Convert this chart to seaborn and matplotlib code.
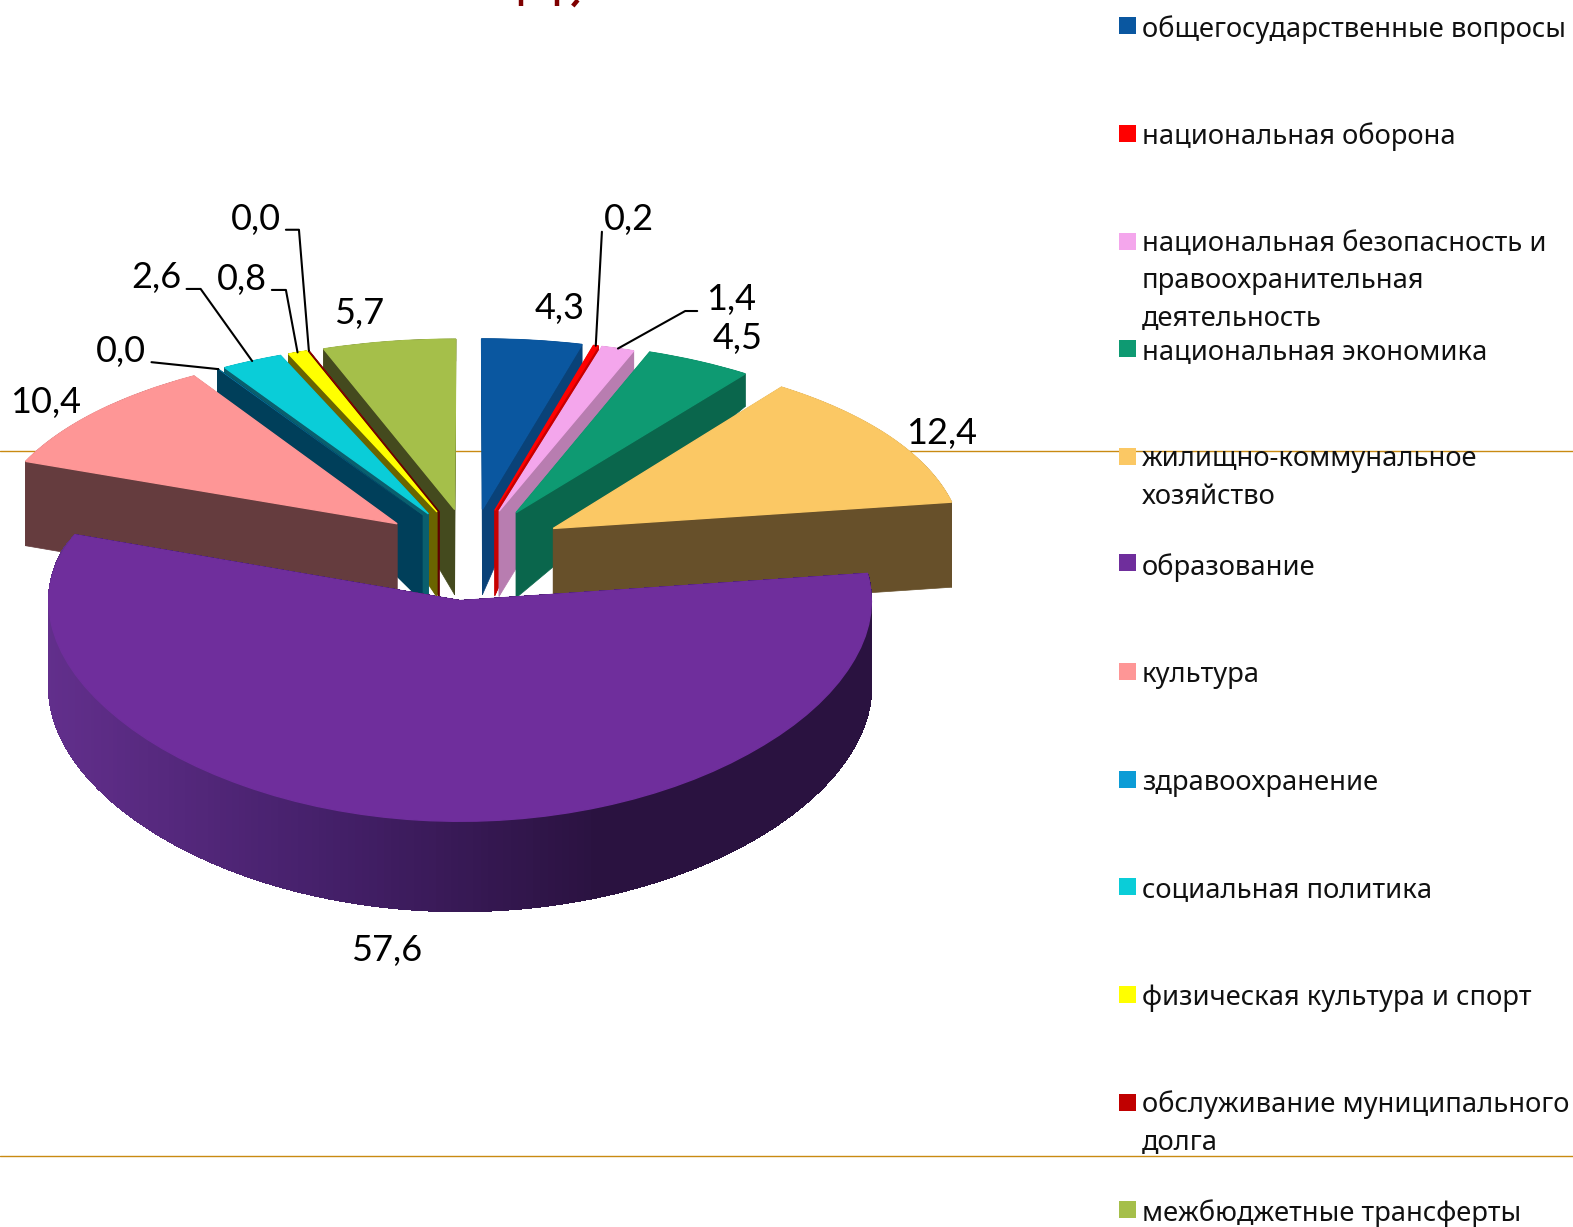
import numpy as np
import matplotlib
matplotlib.use("Agg")
import matplotlib.pyplot as plt
from matplotlib.collections import PolyCollection
from matplotlib.colors import LinearSegmentedColormap
from matplotlib.transforms import Transform
import seaborn as sns

# ---------- data ----------
categories = ["общегосударственные вопросы", "национальная оборона",
              "национальная безопасность и\nправоохранительная\nдеятельность",
              "национальная экономика", "жилищно-коммунальное\nхозяйство",
              "образование", "культура", "здравоохранение", "социальная политика",
              "физическая культура и спорт", "обслуживание муниципального\nдолга",
              "межбюджетные трансферты"]
values = [4.3, 0.2, 1.4, 4.5, 12.4, 57.6, 10.4, 0.03, 2.6, 0.8, 0.03, 5.7]
top_colors = ["#0A57A0", "#FF0000", "#F4A6EC", "#0E9A72", "#FBC864", "#6F2E9C",
              "#FE9696", "#0C9CD6", "#0ACDD8", "#FFFF00", "#C00000", "#A5BF4A"]
wall_colors = ["#0A4278", "#C80000", "#B87DB0", "#0A664C", "#67502A", "#3F1C60",
               "#653C3E", "#003F5A", "#0A5F6E", "#6A6400", "#600000", "#444A1E"]
explode = [0.22, 0.22, 0.22, 0.23, 0.235, 0.25, 0.23, 0.22, 0.22, 0.22, 0.22, 0.22]

# ---------- layout (in reference pixels) ----------
label_xy = [(558, 307), (627, 219), (729, 299), (735, 337), (939, 432), (385, 947),
            (45, 401), (121, 350), (156, 277), (241, 279), (255, 219), (358, 312)]
# leader starts and elbows for the labels that have one (index: [start, elbow])
leaders = {1: [(600, 231)], 2: [(695, 310), (683, 310)], 7: [(151, 361)],
           8: [(186, 288), (200, 288)], 9: [(271, 289), (285, 289)],
           10: [(285, 229), (298, 229)]}
legend_marker_y = [25, 133, 241, 347, 455, 561, 669, 777, 884, 991, 1099, 1206]
legend_text_y = [27, 134, 241, 349, 456, 563, 671, 778, 885, 993, 1099, 1207]
CX, CY, R = 469.0, 550.0, 410.0


class Perspective(Transform):
    """Ground-plane pie coordinates (radius 1) to picture pixels."""
    input_dims = 2
    output_dims = 2
    is_separable = False
    has_inverse = False

    def transform_non_affine(self, v):
        v = np.asarray(v, dtype=float)
        y = v[:, 1]
        back = y > 0
        dx = np.where(back, 1 + 0.08 * y, 1.0)
        dy = np.where(back, 1 + 0.12 * y, 1 + 0.088 * y)
        squash = np.where(back, 0.487, 0.467)
        return np.column_stack((CX + R * v[:, 0] / dx, CY - R * squash * y / dy))


def wall_height(y):
    return np.interp(y, [-1.3, 0.5, 1.0, 1.3], [90, 84, 32, 18])


sns.set_theme(style="white")
plt.rcParams["font.family"] = ["Noto Sans", "DejaVu Sans"]
fig = plt.figure(figsize=(15.73, 12.27), dpi=100, facecolor="white")
ax = fig.add_axes([0, 0, 1, 1])

wedges, _ = ax.pie(values, explode=explode, colors=top_colors, startangle=90,
                   counterclock=False, radius=1, wedgeprops=dict(linewidth=0))
ax.set_aspect("auto")
proj = Perspective()
shade = LinearSegmentedColormap.from_list("wall", ["#622F8C", "#45206A", "#2A1240", "#2A1240"])

for rank, i in enumerate(sorted(range(len(values)), key=lambda k: -wedges[k].center[1])):
    w = wedges[i]
    w.set_transform(proj + ax.transData)
    w.set_zorder(10 + 2 * rank + 1)
    w.set_edgecolor(top_colors[i])
    w.set_linewidth(1.0 if values[i] >= 0.1 else 0.0)
    c = np.array(w.center)
    t = np.radians(np.linspace(w.theta1, w.theta2, 200))
    arc = c + np.column_stack((np.cos(t), np.sin(t)))
    h = wall_height(arc[:, 1])
    top, apex = proj.transform(arc), proj.transform(c[None, :])[0]
    hc = wall_height(c[1])
    polys = [[apex, top[0], top[0] + (0, h[0]), apex + (0, hc)],
             [apex, top[-1], top[-1] + (0, h[-1]), apex + (0, hc)]]
    cols = [wall_colors[i]] * 2
    for j in range(len(t) - 1):
        polys.append([top[j], top[j + 1], top[j + 1] + (0, h[j + 1]), top[j] + (0, h[j])])
        if i == 5:
            cols.append(shade(np.clip((top[j, 0] - 45) / 825, 0, 1)))
        else:
            cols.append(wall_colors[i])
    ax.add_collection(PolyCollection(polys, facecolors=cols, edgecolors=cols, linewidths=0.5,
                                     antialiaseds=(i != 5), zorder=10 + 2 * rank))

# thin template rules behind the chart
for y in (450, 1152):
    ax.axhline(y, color="#C98A12", lw=1.0, zorder=1)

# clipped bits of the cut-off title
for x0, x1 in ((519, 519), (555, 555), (576, 571)):
    ax.plot([x0, x1], [0, 6], color="#7F0000", lw=3.2, solid_capstyle="butt", zorder=2)

# data labels and leaders
for i, (x, y) in enumerate(label_xy):
    ax.text(x, y, f"{values[i]:.1f}".replace(".", ","), ha="center", va="center", fontsize=26,
            family="Lato", color="black", zorder=50)
for i, pts in leaders.items():
    w = wedges[i]
    a = np.radians((w.theta1 + w.theta2) / 2)
    end = proj.transform((np.array(w.center) + (np.cos(a), np.sin(a)))[None, :])[0]
    xy = np.array(list(pts) + [end])
    ax.plot(xy[:, 0], xy[:, 1], color="black", lw=1.5, zorder=49)

# legend
sns.scatterplot(x=[1124] * len(categories), y=legend_marker_y, hue=categories, palette=top_colors,
                marker="s", s=150, linewidth=0, legend=False, ax=ax, zorder=50)
for name, y in zip(categories, legend_text_y):
    ax.text(1138, y - 12, name, ha="left", va="top", fontsize=19.65, color="#111111",
            linespacing=1.45, zorder=50)

ax.set_xlim(0, 1568)
ax.set_ylim(1223, 0)
ax.set_axis_off()
fig.savefig("out.png", dpi=100)
